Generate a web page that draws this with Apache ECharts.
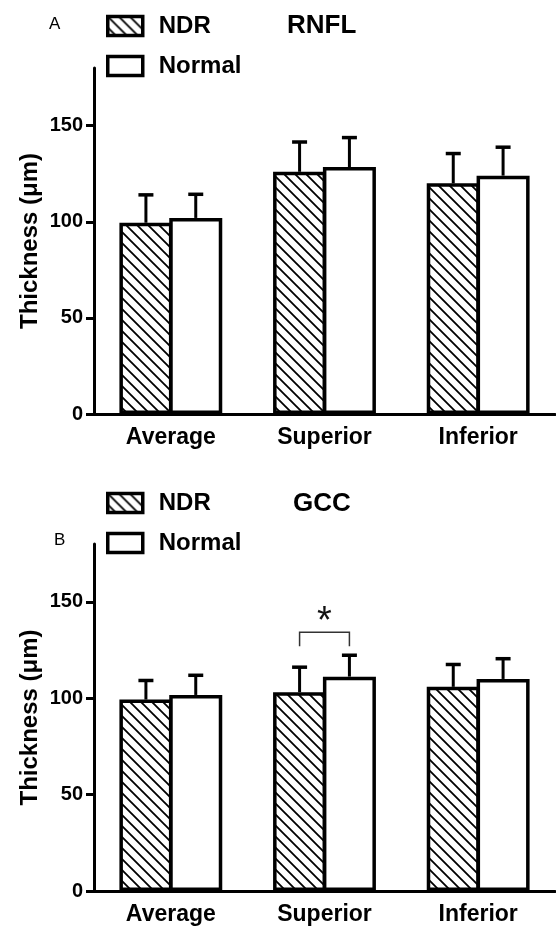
<!DOCTYPE html>
<html><head><meta charset="utf-8">
<script src="https://cdn.jsdelivr.net/npm/echarts@6/dist/echarts.min.js"></script>
<style>html,body{margin:0;padding:0;background:#fff}#c{width:556px;height:927px}</style>
</head><body><div id="c"></div>
<script>
// ---- data ----
const categories = ['Average', 'Superior', 'Inferior'];
const yTicks = [0, 50, 100, 150];
const seriesNames = ['NDR', 'Normal'];
const rnflNDR = [99.5, 126, 120];
const rnflNDRsd = [14.5, 15.5, 15.5];
const rnflNormal = [102, 128.5, 124];
const rnflNormalSd = [12.3, 15.3, 14.8];
const gccNDR = [99.3, 103.1, 105.9];
const gccNDRsd = [9.9, 13, 11.6];
const gccNormal = [101.7, 111.2, 110];
const gccNormalSd = [10.2, 11.1, 10.5];
// significance bracket: [category index, bracket top, leg bottom, star level]
const gccSig = [[1, 134.2, 127, 139.5]];

const FONT = '"Liberation Sans", Arial, sans-serif';
const BAR_FRAC = 0.345;
const GAP = -0.06;

// hatch pattern
const T = 11;
const pc = document.createElement('canvas');
pc.width = T; pc.height = T;
const px = pc.getContext('2d');
px.fillStyle = '#fff'; px.fillRect(0, 0, T, T);
px.strokeStyle = '#000'; px.lineWidth = 1.8;
px.beginPath();
px.moveTo(-2, -2); px.lineTo(T + 2, T + 2);
px.moveTo(-2, T - 2); px.lineTo(2, T + 2);
px.moveTo(T - 2, -2); px.lineTo(T + 2, 2);
px.stroke();
const hatch = { image: pc, repeat: 'repeat' };

function barOffset(band) { return band * BAR_FRAC * (1 + GAP) / 2; }

function errSeries(means, sds, sign, gi) {
  return {
    type: 'custom', xAxisIndex: gi, yAxisIndex: gi, z: 5, silent: true,
    data: means.map((m, i) => [i, m, m + sds[i]]),
    renderItem: function (params, api) {
      const base = api.coord([api.value(0), api.value(1)]);
      const top = api.coord([api.value(0), api.value(2)]);
      const band = api.size([1, 0])[0];
      const x = base[0] + sign * barOffset(band);
      return {
        type: 'group', children: [
          { type: 'line', shape: { x1: x, y1: base[1], x2: x, y2: top[1] }, style: { stroke: '#000', lineWidth: 3 } },
          { type: 'line', shape: { x1: x - 7.5, y1: top[1], x2: x + 7.5, y2: top[1] }, style: { stroke: '#000', lineWidth: 3.5 } }
        ]
      };
    }
  };
}

function barSeries(name, data, gi, color) {
  return {
    type: 'bar', name: name, xAxisIndex: gi, yAxisIndex: gi, data: data,
    barWidth: (BAR_FRAC * 100) + '%', barGap: (GAP * 100) + '%',
    itemStyle: { color: color, borderColor: '#000', borderWidth: 3.5 },
    emphasis: { disabled: true }
  };
}

function xAx(gi) {
  return {
    type: 'category', gridIndex: gi, data: categories,
    axisLine: { lineStyle: { color: '#000', width: 3 } },
    axisTick: { alignWithLabel: true, length: 9, lineStyle: { color: '#000', width: 3 } },
    axisLabel: { color: '#000', fontSize: 23, fontWeight: 'bold', fontFamily: FONT, margin: 12 }
  };
}
function yAx(gi) {
  return {
    type: 'value', gridIndex: gi, min: 0, max: 180, interval: 50,
    name: 'Thickness (μm)', nameLocation: 'middle', nameGap: 52, nameMoveOverlap: false,
    nameTextStyle: { color: '#000', fontSize: 24, fontWeight: 'bold', fontFamily: FONT },
    axisLine: { show: true, lineStyle: { color: '#000', width: 3 } },
    axisTick: { show: true, length: 8, customValues: yTicks, lineStyle: { color: '#000', width: 3 } },
    axisLabel: { color: '#000', fontSize: 20, fontWeight: 'bold', fontFamily: FONT, margin: 11, customValues: yTicks },
    splitLine: { show: false }
  };
}
function legend(top) {
  return {
    left: 106, top: top, padding: 0, orient: 'vertical', itemWidth: 35, itemHeight: 19, itemGap: 16,
    icon: 'rect', data: seriesNames, selectedMode: false,
    itemStyle: { borderColor: '#000', borderWidth: 3.5 },
    textStyle: { color: '#000', fontSize: 24, fontWeight: 'bold', fontFamily: FONT, padding: [0, 0, 0, 11] }
  };
}

const sigSeries = {
  type: 'custom', xAxisIndex: 1, yAxisIndex: 1, z: 6, silent: true,
  data: gccSig,
  renderItem: function (params, api) {
    const c = api.coord([api.value(0), api.value(1)]);
    const legY = api.coord([api.value(0), api.value(2)])[1];
    const starY = api.coord([api.value(0), api.value(3)])[1];
    const band = api.size([1, 0])[0];
    const xl = c[0] - barOffset(band), xr = c[0] + barOffset(band);
    return {
      type: 'group', children: [
        { type: 'polyline', shape: { points: [[xl, legY], [xl, c[1]], [xr, c[1]], [xr, legY]] }, style: { stroke: '#333', lineWidth: 1.5, fill: null } },
        { type: 'text', style: { text: '*', x: c[0], y: starY, align: 'center', verticalAlign: 'middle', fontSize: 38, fontFamily: FONT, fill: '#111' } }
      ]
    };
  }
};

const chart = echarts.init(document.getElementById('c'), null, { renderer: 'canvas' });
chart.setOption({
  backgroundColor: '#fff',
  animation: false,
  title: [
    { text: 'RNFL', left: 282, top: 8, textStyle: { fontSize: 26, fontWeight: 'bold', fontFamily: FONT, color: '#000' } },
    { text: 'GCC', left: 288, top: 486, textStyle: { fontSize: 26, fontWeight: 'bold', fontFamily: FONT, color: '#000' } },
    { text: 'A', left: 44, top: 11, textStyle: { fontSize: 17, fontWeight: 'normal', fontFamily: FONT, color: '#000' } },
    { text: 'B', left: 49, top: 527, textStyle: { fontSize: 17, fontWeight: 'normal', fontFamily: FONT, color: '#000' } }
  ],
  legend: [legend(14), legend(491)],
  grid: [
    { left: 94, right: 1, top: 68, height: 346 },
    { left: 94, right: 1, top: 544, height: 347 }
  ],
  xAxis: [xAx(0), xAx(1)],
  yAxis: [yAx(0), yAx(1)],
  series: [
    barSeries('NDR', rnflNDR, 0, hatch),
    barSeries('Normal', rnflNormal, 0, '#fff'),
    errSeries(rnflNDR, rnflNDRsd, -1, 0),
    errSeries(rnflNormal, rnflNormalSd, 1, 0),
    barSeries('NDR', gccNDR, 1, hatch),
    barSeries('Normal', gccNormal, 1, '#fff'),
    errSeries(gccNDR, gccNDRsd, -1, 1),
    errSeries(gccNormal, gccNormalSd, 1, 1),
    sigSeries
  ]
});
</script></body></html>
